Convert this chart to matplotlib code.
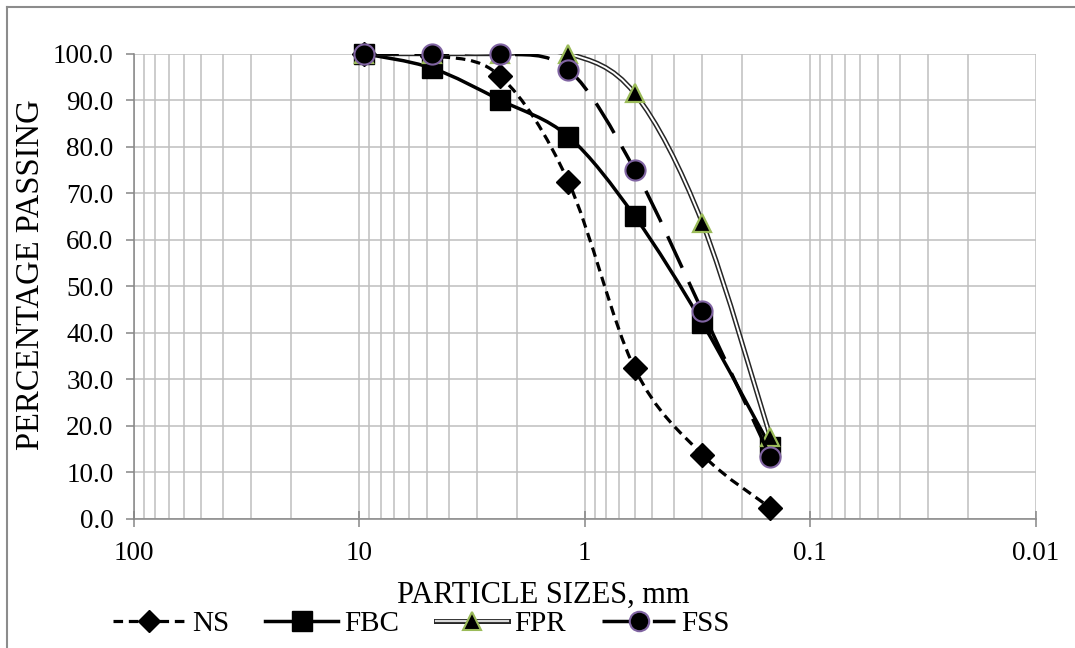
import numpy as np
import matplotlib
matplotlib.use("Agg")
import matplotlib.pyplot as plt
from matplotlib.path import Path
from matplotlib.patches import PathPatch
from matplotlib.lines import Line2D
from matplotlib.legend_handler import HandlerTuple
from matplotlib.ticker import LogLocator, NullFormatter, FixedLocator

# sieve sizes (mm) and percentage passing for each sample
sizes = [9.5, 4.75, 2.36, 1.18, 0.6, 0.3, 0.15]
ns = [100.0, 99.6, 95.1, 72.5, 32.4, 13.8, 2.4]
fbc = [100.0, 96.9, 90.0, 82.2, 65.1, 42.1, 15.5]
fpr = [100.0, 100.0, 100.0, 100.0, 91.5, 63.6, 17.7]
fss = [100.0, 100.0, 100.0, 96.6, 75.1, 44.6, 13.4]

x_ticks = [100, 10, 1, 0.1, 0.01]
x_labels = ["100", "10", "1", "0.1", "0.01"]
y_ticks = list(range(0, 101, 10))

plt.rcParams['font.family'] = ['Liberation Serif', 'DejaVu Serif']


def smooth_path(x, y):
    # excel style smoothed line: cubic bezier segments in log-x space
    pts = np.column_stack([np.log10(x), y])
    n = len(pts)
    verts = [pts[0]]
    codes = [Path.MOVETO]
    for i in range(n - 1):
        p0 = pts[max(i - 1, 0)]
        p1 = pts[i]
        p2 = pts[i + 1]
        p3 = pts[min(i + 2, n - 1)]
        verts += [p1 + (p2 - p0) / 6, p2 - (p3 - p1) / 6, p2]
        codes += [Path.CURVE4] * 3
    verts = np.array(verts)
    verts[:, 0] = 10 ** verts[:, 0]
    return Path(verts, codes)


fig = plt.figure(figsize=(10.75, 6.48), dpi=100)
ax = fig.add_axes([133.6 / 1075, 1 - 519 / 648, (1035.5 - 133.6) / 1075, (519 - 53.7) / 648])

# outer chart border (left and top visible)
fig.add_artist(Line2D([7 / 1075, 7 / 1075], [0, 1 - 6.7 / 648], color='#8c8c8c', lw=1.5))
fig.add_artist(Line2D([7 / 1075, 1], [1 - 6.7 / 648, 1 - 6.7 / 648], color='#8c8c8c', lw=1.5))

ax.set_xscale('log')
ax.set_xlim(100, 0.01)
ax.set_ylim(0, 100)

ns_style = dict(color='black', lw=2.3, ls=(0, (3, 1.8)))
fbc_style = dict(color='black', lw=2.5, ls='-')
fss_style = dict(color='black', lw=2.5, ls=(0, (10, 4.5)))

ax.add_patch(PathPatch(smooth_path(sizes, ns), fill=False, zorder=3, capstyle='butt', **ns_style))
ax.plot(sizes, ns, ls='none', marker='D', ms=12, color='black', zorder=3.1, clip_on=False)

ax.add_patch(PathPatch(smooth_path(sizes, fbc), fill=False, zorder=4, **fbc_style))
ax.plot(sizes, fbc, ls='none', marker='s', ms=15, color='black', zorder=4.1, clip_on=False)

ax.add_patch(PathPatch(smooth_path(sizes, fpr), fill=False, zorder=5, color='#262626', lw=3.6))
ax.add_patch(PathPatch(smooth_path(sizes, fpr), fill=False, zorder=5.05, color='white', lw=1.4))
ax.plot(sizes, fpr, ls='none', marker='^', ms=13.5, mfc='black', mec='#9bbb59', mew=1.6,
        zorder=5.1, clip_on=False)

ax.add_patch(PathPatch(smooth_path(sizes, fss), fill=False, zorder=6, capstyle='butt', **fss_style))
ax.plot(sizes, fss, ls='none', marker='o', ms=14.5, mfc='black', mec='#8064a2', mew=1.5,
        zorder=6.1, clip_on=False)

# grid and axes styling
ax.xaxis.set_major_locator(FixedLocator(x_ticks))
ax.set_xticklabels(x_labels)
ax.xaxis.set_minor_locator(LogLocator(base=10, subs=np.arange(2, 10)))
ax.xaxis.set_minor_formatter(NullFormatter())
ax.set_yticks(y_ticks)
ax.set_yticklabels([f"{v:.1f}" for v in y_ticks])
ax.grid(True, which='both', axis='x', color='#bfbfbf', lw=1.1)
ax.grid(True, which='major', axis='y', color='#bfbfbf', lw=1.1)
ax.set_axisbelow(True)
for side in ['top', 'right']:
    ax.spines[side].set_visible(False)
for side in ['left', 'bottom']:
    ax.spines[side].set_color('#868686')
    ax.spines[side].set_linewidth(1.1)
ax.tick_params(axis='x', which='major', direction='inout', length=11.5, width=1.1,
               color='#868686', labelsize=19.5, pad=10)
ax.tick_params(axis='x', which='minor', length=0)
ax.tick_params(axis='y', direction='out', length=5.5, width=1.1, color='#868686',
               labelsize=19.5, pad=9)

fig.text(31 / 1075, 1 - 275 / 648, "PERCENTAGE PASSING", rotation=90, ha='center', va='center',
         fontsize=23.5)
fig.text(543 / 1075, 1 - 603 / 648, "PARTICLE SIZES, mm", ha='center', va='baseline', fontsize=22)

# legend
h_ns = Line2D([], [], marker='D', ms=11, **ns_style)
h_fbc = Line2D([], [], marker='s', ms=14, **fbc_style)
h_fpr = (Line2D([], [], color='#262626', lw=3.6),
         Line2D([], [], color='#d9d9d9', lw=1.6),
         Line2D([], [], ls='none', marker='^', ms=13, mfc='black', mec='#9bbb59', mew=1.5))
h_fss = Line2D([], [], marker='o', ms=14, mfc='black', mec='#8064a2', mew=1.5, **fss_style)
fig.legend([h_ns, h_fbc, h_fpr, h_fss], ["NS", "FBC", "FPR", "FSS"],
           handler_map={tuple: HandlerTuple(ndivide=1)},
           loc='center left', bbox_to_anchor=(113 / 1075, 1 - 624 / 648), ncol=4,
           frameon=False, fontsize=21, handlelength=2.5, handletextpad=0.2,
           columnspacing=1.25, borderpad=0, borderaxespad=0)

fig.savefig("out.png", dpi=100)
